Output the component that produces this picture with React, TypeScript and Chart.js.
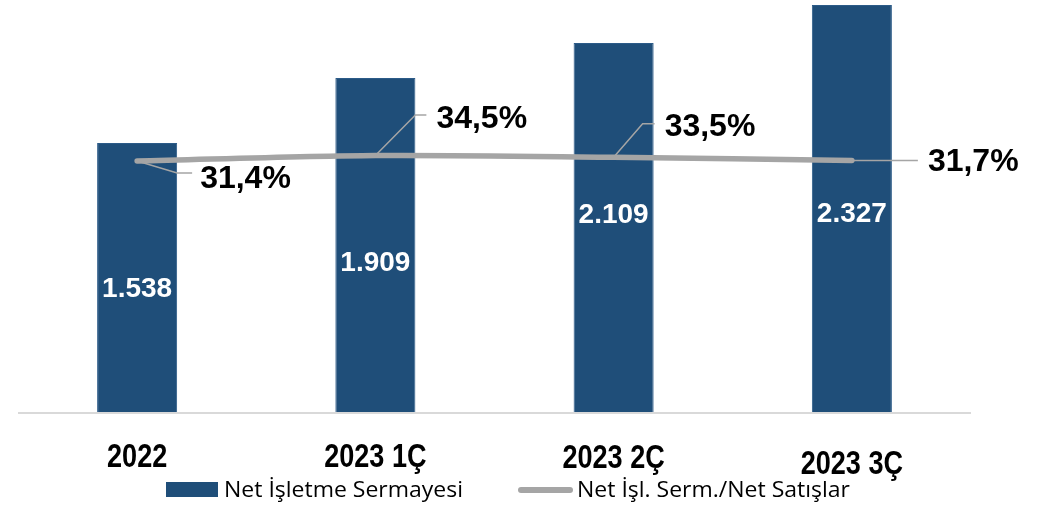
import React, { useEffect, useRef } from 'react';
import { Chart, registerables } from 'chart.js';

Chart.register(...registerables);

// ---- data ----
const categories = ['2022', '2023 1Ç', '2023 2Ç', '2023 3Ç'];
const netWorkingCapital = [1538, 1909, 2109, 2327];
const ratioPct = [31.4, 34.5, 33.5, 31.7];
const barValueLabels = ['1.538', '1.909', '2.109', '2.327'];
const ratioValueLabels = ['31,4%', '34,5%', '33,5%', '31,7%'];
const legendLabels = ['Net İşletme Sermayesi', 'Net İşl. Serm./Net Satışlar'];

// ---- style / layout ----
const BAR_COLOR = '#1F4E79';
const BAR_EDGE = '#2C5B88';
const LINE_COLOR = '#A5A5A5';
const AXIS_COLOR = '#D9D9D9';
const W = 1059;
const H = 507;

// label placement (relative to the element drawn by the library)
const barLabelDy = [9.5, 15.5, -14.5, 3.5];
const catBaselineDy = [55, 55, 56, 62];
// [elbowDx, elbowDy, endDx, endDy, textDx, textDy]
const ratioLeader = [
  [40, 12, 55, 12, 63, 15],
  [40, -40.5, 51, -40.5, 61, -39],
  [29, -33.5, 41, -33.5, 51, -32.5],
  [null, null, 66, 0, 76, -1.5],
];

const annotPlugin = {
  id: 'annot',
  beforeDatasetsDraw(chart: any) {
    const { ctx, chartArea } = chart;
    ctx.save();
    ctx.strokeStyle = AXIS_COLOR;
    ctx.lineWidth = 2;
    ctx.beginPath();
    ctx.moveTo(chartArea.left, chartArea.bottom + 1);
    ctx.lineTo(chartArea.right, chartArea.bottom + 1);
    ctx.stroke();
    ctx.restore();
  },
  afterDatasetsDraw(chart: any) {
    const { ctx, chartArea } = chart;
    const xScale = chart.scales.x;
    ctx.save();

    // bar value labels
    const barMeta = chart.getDatasetMeta(0);
    ctx.fillStyle = '#FFFFFF';
    ctx.font = 'bold 28px "Liberation Sans", Arial, sans-serif';
    ctx.textAlign = 'center';
    ctx.textBaseline = 'alphabetic';
    barMeta.data.forEach((el: any, i: number) => {
      const mid = (el.y + el.base) / 2;
      ctx.fillText(barValueLabels[i], el.x, mid + barLabelDy[i] + 10);
    });

    // line value labels with leader lines
    const lineMeta = chart.getDatasetMeta(1);
    lineMeta.data.forEach((pt: any, i: number) => {
      const [ex, ey, nx, ny, tx, ty] = ratioLeader[i] as any[];
      ctx.strokeStyle = LINE_COLOR;
      ctx.lineWidth = 1.5;
      ctx.beginPath();
      ctx.moveTo(pt.x, pt.y);
      if (ex !== null) ctx.lineTo(pt.x + ex, pt.y + ey);
      ctx.lineTo(pt.x + nx, pt.y + ny);
      ctx.stroke();
      ctx.fillStyle = '#000000';
      ctx.font = 'bold 32px "Liberation Sans", Arial, sans-serif';
      ctx.textAlign = 'left';
      ctx.fillText(ratioValueLabels[i], pt.x + tx, pt.y + ty + 11.5);
    });

    // category labels
    ctx.fillStyle = '#000000';
    ctx.font = 'bold 33px "Liberation Sans", Arial, sans-serif';
    ctx.textAlign = 'center';
    categories.forEach((c, i) => {
      const x = xScale.getPixelForValue(i);
      ctx.save();
      ctx.translate(x, chartArea.bottom + catBaselineDy[i]);
      ctx.scale(0.82, 1);
      ctx.fillText(c, 0, 0);
      ctx.restore();
    });

    // legend
    const legendBaseline = 497;
    const legendMid = 490;
    ctx.fillStyle = BAR_COLOR;
    ctx.fillRect(166, 482, 52, 15);
    ctx.strokeStyle = LINE_COLOR;
    ctx.lineWidth = 6;
    ctx.lineCap = 'round';
    ctx.beginPath();
    ctx.moveTo(521, legendMid);
    ctx.lineTo(570, legendMid);
    ctx.stroke();
    ctx.lineCap = 'butt';

    ctx.fillStyle = '#000000';
    ctx.font = '21px "Open Sans", "Noto Sans", sans-serif';
    ctx.textAlign = 'left';
    const w0 = ctx.measureText(legendLabels[0]).width;
    const s = 239 / w0;
    [[224, legendLabels[0]], [577, legendLabels[1]]].forEach(([x, t]: any) => {
      ctx.save();
      ctx.translate(x, legendBaseline);
      ctx.scale(s, 1);
      ctx.fillText(t, 0, 0);
      ctx.restore();
    });

    ctx.restore();
  },
};

export default function App() {
  const ref = useRef<HTMLCanvasElement>(null);
  useEffect(() => {
    document.body.style.margin = '0';
    const canvas = ref.current!;
    const chart = new Chart(canvas, {
      type: 'bar',
      data: {
        labels: categories,
        datasets: [
          {
            type: 'bar',
            label: legendLabels[0],
            data: netWorkingCapital,
            backgroundColor: BAR_COLOR,
            borderColor: BAR_EDGE,
            borderWidth: 1,
            barPercentage: 0.336,
            categoryPercentage: 1,
            yAxisID: 'y',
            order: 2,
          },
          {
            type: 'line',
            label: legendLabels[1],
            data: ratioPct,
            borderColor: LINE_COLOR,
            backgroundColor: LINE_COLOR,
            borderWidth: 5.5,
            borderCapStyle: 'round',
            pointRadius: 0,
            tension: 0.3,
            yAxisID: 'y1',
            order: 1,
          } as any,
        ],
      },
      options: {
        responsive: false,
        animation: false,
        devicePixelRatio: 1,
        layout: { padding: { left: 18, right: 88, top: 0, bottom: 95 } },
        plugins: {
          legend: { display: false },
          tooltip: { enabled: false },
        },
        scales: {
          x: { display: false },
          y: { display: false, min: 0, max: 2355 },
          y1: { display: false, min: -110.4, max: 122.4, position: 'right' },
        },
      },
      plugins: [annotPlugin],
    });
    return () => chart.destroy();
  }, []);
  return (
    <div style={{ width: W, height: H }}>
      <canvas ref={ref} width={W} height={H} style={{ display: 'block' }} />
    </div>
  );
}
